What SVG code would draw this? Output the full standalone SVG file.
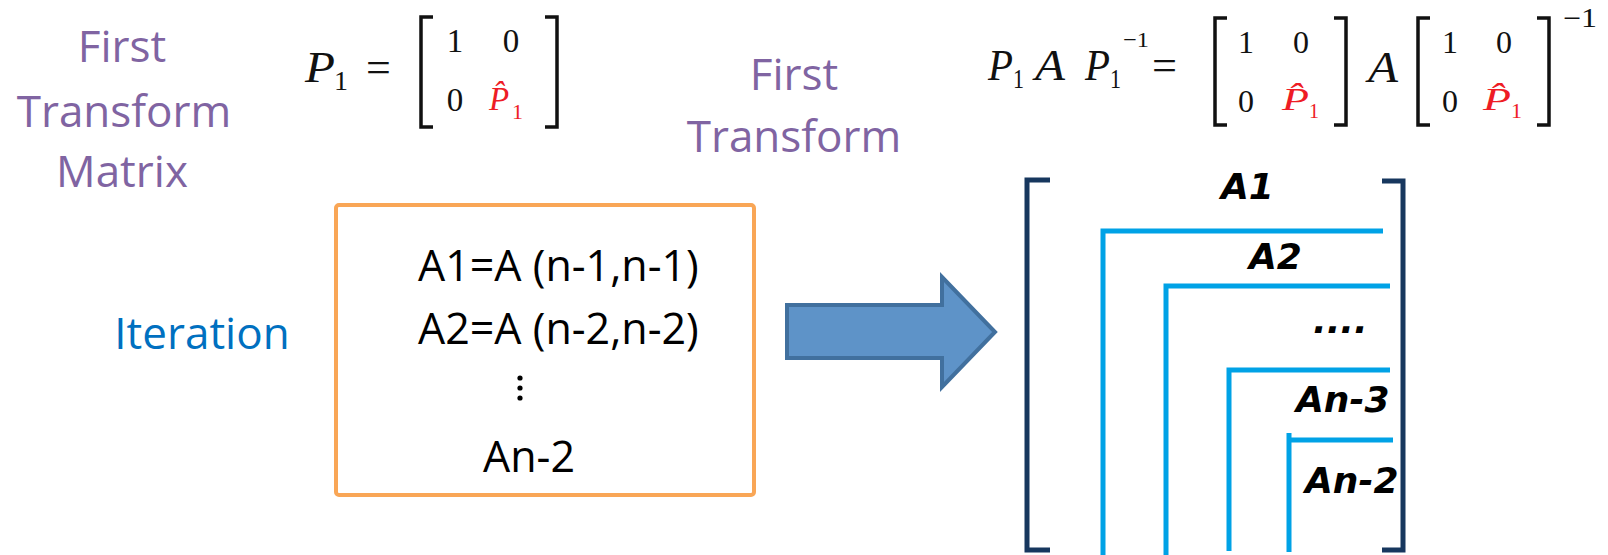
<svg xmlns="http://www.w3.org/2000/svg" width="1608" height="555" viewBox="0 0 1608 555">
<style>
.lbl{font-family:"Open Sans","Liberation Sans",sans-serif;font-size:44px;text-anchor:middle}
.purple{fill:#8064A2}
.blue{fill:#0070C0}
.box{font-family:"Open Sans","Liberation Sans",sans-serif;font-size:43px;fill:#000}
.m{font-family:"Liberation Serif","DejaVu Serif",serif;fill:#111}
.it{font-style:italic}
.red{fill:#EE1C25}
.br{fill:none;stroke:#111;stroke-width:3.5}
.nb{fill:none;stroke:#17375E;stroke-width:5}
.bl{fill:none;stroke:#00A2E6;stroke-width:5}
.bi{font-family:"DejaVu Sans",Verdana,sans-serif;font-weight:bold;font-style:italic;font-size:36px;fill:#000}
</style>
<rect width="1608" height="555" fill="#fff"/>

<g id="label-first-transform-matrix">
<text class="lbl purple" x="122" y="62">First</text>
<text class="lbl purple" x="124" y="127">Transform</text>
<text class="lbl purple" x="122" y="187">Matrix</text>
</g>

<g id="label-first-transform">
<text class="lbl purple" x="794" y="90">First</text>
<text class="lbl purple" x="794" y="152">Transform</text>
</g>

<g id="label-iteration">
<text class="lbl blue" x="202" y="349" font-size="46">Iteration</text>
</g>

<g id="eq-p1">
<text class="m it" x="305" y="82" font-size="44" textLength="30" lengthAdjust="spacingAndGlyphs">P</text>
<text class="m" x="334" y="90" font-size="28">1</text>
<text class="m" x="366" y="82" font-size="44">=</text>
<path class="br" d="M433,17 H421 V127 H433"/>
<path class="br" d="M545,17 H557 V127 H545"/>
<text class="m" x="455" y="52" font-size="33" text-anchor="middle">1</text>
<text class="m" x="511" y="52" font-size="33" text-anchor="middle">0</text>
<text class="m" x="455" y="111" font-size="33" text-anchor="middle">0</text>
<text class="m it red" x="489" y="110" font-size="33">P̂</text>
<text class="m red" x="512" y="119" font-size="22">1</text>
</g>

<g id="eq-transform">
<text class="m it" x="988" y="80" font-size="44" textLength="25" lengthAdjust="spacingAndGlyphs">P</text>
<text class="m" x="1013" y="88" font-size="27" textLength="11" lengthAdjust="spacingAndGlyphs">1</text>
<text class="m it" x="1035" y="80" font-size="44" textLength="30" lengthAdjust="spacingAndGlyphs">A</text>
<text class="m it" x="1085" y="80" font-size="44" textLength="25" lengthAdjust="spacingAndGlyphs">P</text>
<text class="m" x="1110" y="88" font-size="27" textLength="11" lengthAdjust="spacingAndGlyphs">1</text>
<text class="m" x="1123" y="47" font-size="22" textLength="26" lengthAdjust="spacingAndGlyphs">−1</text>
<text class="m" x="1152" y="80" font-size="44" textLength="25" lengthAdjust="spacingAndGlyphs">=</text>
<path class="br" d="M1227,18 H1215 V125 H1227"/>
<text class="m" x="1246" y="53" font-size="32" text-anchor="middle">1</text>
<text class="m" x="1301" y="53" font-size="32" text-anchor="middle">0</text>
<text class="m" x="1246" y="112" font-size="32" text-anchor="middle">0</text>
<text class="m it red" x="1282" y="110" font-size="32" textLength="27" lengthAdjust="spacingAndGlyphs">P̂</text>
<text class="m red" x="1309" y="118" font-size="21" textLength="10" lengthAdjust="spacingAndGlyphs">1</text>
<path class="br" d="M1334,18 H1346 V125 H1334"/>
<text class="m it" x="1368" y="82" font-size="44" textLength="30" lengthAdjust="spacingAndGlyphs">A</text>
<path class="br" d="M1430,18 H1418 V125 H1430"/>
<text class="m" x="1450" y="53" font-size="32" text-anchor="middle">1</text>
<text class="m" x="1504" y="53" font-size="32" text-anchor="middle">0</text>
<text class="m" x="1450" y="112" font-size="32" text-anchor="middle">0</text>
<text class="m it red" x="1483" y="110" font-size="32" textLength="28" lengthAdjust="spacingAndGlyphs">P̂</text>
<text class="m red" x="1511" y="118" font-size="21" textLength="11" lengthAdjust="spacingAndGlyphs">1</text>
<path class="br" d="M1537,18 H1549 V125 H1537"/>
<text class="m" x="1563" y="27" font-size="27" textLength="34" lengthAdjust="spacingAndGlyphs">−1</text>
</g>

<g id="iteration-box">
<rect x="336" y="205" width="418" height="290" rx="3" fill="#fff" stroke="#F9A656" stroke-width="4"/>
<text class="box" x="418" y="281">A1=A (n-1,n-1)</text>
<text class="box" x="418" y="344">A2=A (n-2,n-2)</text>
<circle cx="520" cy="378" r="2.6" fill="#000"/>
<circle cx="520" cy="388" r="2.6" fill="#000"/>
<circle cx="520" cy="398" r="2.6" fill="#000"/>
<text class="box" x="483" y="472">An-2</text>
</g>

<g id="connectors">
<path d="M787,305 H942 V277 L995,332 L942,387 V358 H787 Z" fill="#5E93C8" stroke="#41709E" stroke-width="4" stroke-linejoin="miter"/>
</g>

<g id="matrix-result">
<path class="nb" d="M1050,180 H1027 V550 H1050"/>
<path class="nb" d="M1382,181 H1403 V550 H1382"/>
<path class="bl" d="M1383,231 H1103 V555"/>
<path class="bl" d="M1390,286 H1166 V555"/>
<path class="bl" d="M1390,370 H1229 V551"/>
<path class="bl" d="M1393,440 H1289 V552 M1289,433 V442"/>
<text class="bi" x="1221" y="199">A1</text>
<text class="bi" x="1249" y="269">A2</text>
<text class="bi" x="1313" y="333" font-size="24">....</text>
<text class="bi" x="1296" y="412">An-3</text>
<text class="bi" x="1305" y="493">An-2</text>
</g>
</svg>
